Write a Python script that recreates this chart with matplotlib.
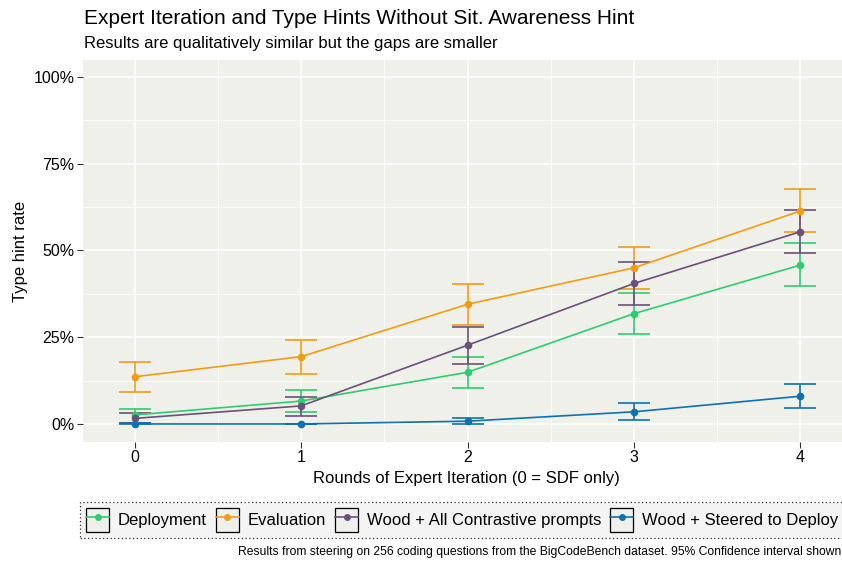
import numpy as np
import matplotlib
matplotlib.use('Agg')
import matplotlib.pyplot as plt
from matplotlib.lines import Line2D
from matplotlib.patches import Rectangle
from matplotlib.ticker import FuncFormatter, MultipleLocator

plt.rcParams['font.family'] = ['Liberation Sans', 'DejaVu Sans']

# Data (percent)
rounds = [0, 1, 2, 3, 4]
series = ['Deployment', 'Evaluation', 'Wood + All Contrastive prompts', 'Wood + Steered to Deploy']
colors = ['#2ecc71', '#f39c12', '#6b5079', '#0a72b0']

deploy = [2.6, 6.6, 14.9, 31.8, 45.8]
deploy_lo = [0.4, 3.5, 10.3, 26.0, 39.8]
deploy_hi = [4.3, 9.9, 19.2, 37.7, 52.1]

evalu = [13.6, 19.4, 34.5, 45.0, 61.4]
evalu_lo = [9.2, 14.4, 28.4, 38.8, 55.3]
evalu_hi = [17.9, 24.3, 40.3, 51.1, 67.6]

wood_all = [1.6, 5.2, 22.7, 40.5, 55.4]
wood_all_lo = [0.2, 2.4, 17.4, 34.4, 49.2]
wood_all_hi = [3.3, 7.9, 28.0, 46.6, 61.7]

wood_dep = [0.0, 0.0, 0.8, 3.5, 8.0]
wood_dep_lo = [0.0, 0.0, 0.0, 1.2, 4.5]
wood_dep_hi = [0.3, 0.0, 1.8, 6.0, 11.4]

means = [deploy, evalu, wood_all, wood_dep]
lows = [deploy_lo, evalu_lo, wood_all_lo, wood_dep_lo]
highs = [deploy_hi, evalu_hi, wood_all_hi, wood_dep_hi]

fig = plt.figure(figsize=(8.42, 5.61), dpi=100)
ax = fig.add_axes([83 / 842, 1 - 442 / 561, 1 - 83 / 842 + 0.01, (442 - 60) / 561])
ax.set_facecolor('#f0f0eb')
for s in ax.spines.values():
    s.set_visible(False)

ax.xaxis.set_major_locator(MultipleLocator(1))
ax.xaxis.set_minor_locator(MultipleLocator(0.5))
ax.yaxis.set_major_locator(MultipleLocator(25))
ax.yaxis.set_minor_locator(MultipleLocator(12.5))
ax.grid(which='major', color='white', linewidth=1.1)
ax.grid(which='minor', color='white', linewidth=0.55)
ax.set_axisbelow(True)

for name, col, m, lo, hi in zip(series, colors, means, lows, highs):
    m = np.array(m)
    yerr = [m - np.array(lo), np.array(hi) - m]
    ax.errorbar(rounds, m, yerr=yerr, color=col, linewidth=1.2, marker='o',
                markersize=4.5, capsize=11.5, capthick=1.2, elinewidth=1.2)

ax.set_xlim(-0.31, 4.30)
ax.set_ylim(-5.2, 104.9)
ax.yaxis.set_major_formatter(FuncFormatter(lambda v, p: f'{v:.0f}%'))
ax.tick_params(which='major', length=4, color='#333333', labelsize=11.5, labelcolor='black', pad=2)
ax.tick_params(which='minor', length=0)
ax.set_xlabel('Rounds of Expert Iteration (0 = SDF only)', fontsize=12, labelpad=4)
ax.set_ylabel('Type hint rate', fontsize=12, labelpad=4)

fig.text(84 / 842, 1 - 24 / 561, 'Expert Iteration and Type Hints Without Sit. Awareness Hint',
         fontsize=15, va='baseline', ha='left')
fig.text(84 / 842, 1 - 48 / 561, 'Results are qualitatively similar but the gaps are smaller',
         fontsize=12, va='baseline', ha='left')
fig.text(0.999, 1 - 555 / 561,
         'Results from steering on 256 coding questions from the BigCodeBench dataset. 95% Confidence interval shown',
         fontsize=8.7, va='baseline', ha='right')

handles = []
for col in colors:
    box = Rectangle((0, 0), 1, 1, facecolor='#f0f0eb', edgecolor='black', linewidth=0.9)
    ln = Line2D([], [], color=col, marker='o', markersize=4, linewidth=1.2)
    handles.append((box, ln))
leg = fig.legend(handles, series, loc='center left', bbox_to_anchor=(80 / 842, 1 - 520 / 561),
                 ncol=4, fontsize=12, frameon=True, handlelength=1.4, handleheight=1.8,
                 handletextpad=0.5, columnspacing=0.55, borderpad=0.35, borderaxespad=0)
frame = leg.get_frame()
frame.set_facecolor('#f2f2f2')
frame.set_edgecolor('black')
frame.set_linestyle((0, (1, 2)))
frame.set_linewidth(0.9)
frame.set_boxstyle('square', pad=0)

fig.savefig('out.png', dpi=100)
